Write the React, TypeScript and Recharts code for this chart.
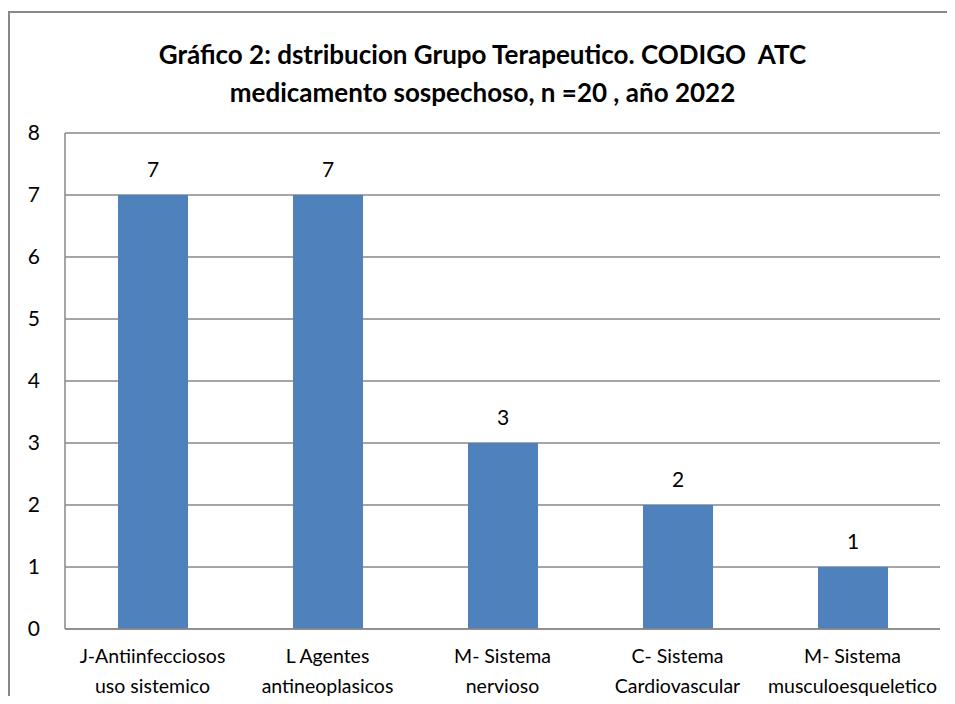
import { BarChart, Bar, XAxis, YAxis, CartesianGrid, LabelList } from "recharts";

const categories = [
  "J-Antiinfecciosos|uso sistemico",
  "L Agentes|antineoplasicos",
  "M- Sistema|nervioso",
  "C- Sistema|Cardiovascular",
  "M- Sistema|musculoesqueletico",
];
const counts = [7, 7, 3, 2, 1];
const yTicks = [0, 1, 2, 3, 4, 5, 6, 7, 8];

const data = categories.map((name, i) => ({ name, value: counts[i] }));

const FONT = "Lato, 'Open Sans', sans-serif";

const CategoryTick = (props: any) => {
  const { x, y, payload } = props;
  const lines = String(payload.value).split("|");
  return (
    <text x={x} y={y} textAnchor="middle" fontSize={19.5} fill="#000" fontFamily={FONT}>
      {lines.map((l, i) => (
        <tspan key={i} x={x} dy={i === 0 ? 26 : 30}>
          {l}
        </tspan>
      ))}
    </text>
  );
};

export default function App() {
  return (
    <div
      style={{
        position: "relative",
        width: 947,
        height: 693,
        marginTop: 3,
        marginBottom: -8,
        borderTop: "2px solid #888",
        borderLeft: "2px solid #888",
        boxSizing: "border-box",
        fontFamily: FONT,
        overflow: "hidden",
      }}
    >
      <div
        style={{
          position: "absolute",
          top: 22,
          left: 0,
          width: 945,
          textAlign: "center",
          fontWeight: 700,
          fontSize: 26,
          lineHeight: "38px",
          color: "#000",
        }}
      >
        Gráfico 2: dstribucion Grupo Terapeutico. CODIGO&nbsp; ATC
        <br />
        medicamento sospechoso, n =20 , año 2022
      </div>
      <BarChart
        width={945}
        height={691}
        data={data}
        margin={{ top: 120, right: 15, left: 0, bottom: 0 }}
        style={{ position: "absolute", top: 0, left: 0 }}
      >
        <CartesianGrid vertical={false} stroke="#888" strokeWidth={1.5} />
        <YAxis
          domain={[0, 8]}
          ticks={yTicks}
          width={55}
          axisLine={{ stroke: "#888", strokeWidth: 1.5 }}
          tickLine={false}
          tickSize={0}
          tickMargin={25}
          tick={{ fill: "#000", fontSize: 21, fontFamily: FONT }}
          interval={0}
        />
        <XAxis
          dataKey="name"
          height={75}
          axisLine={{ stroke: "#888", strokeWidth: 1.5 }}
          tickLine={false}
          tick={<CategoryTick />}
          interval={0}
        />
        <Bar dataKey="value" fill="#4F81BD" barSize={70} isAnimationActive={false}>
          <LabelList
            dataKey="value"
            position="top"
            offset={18}
            fill="#000"
            fontSize={21}
            fontFamily={FONT}
          />
        </Bar>
      </BarChart>
    </div>
  );
}
